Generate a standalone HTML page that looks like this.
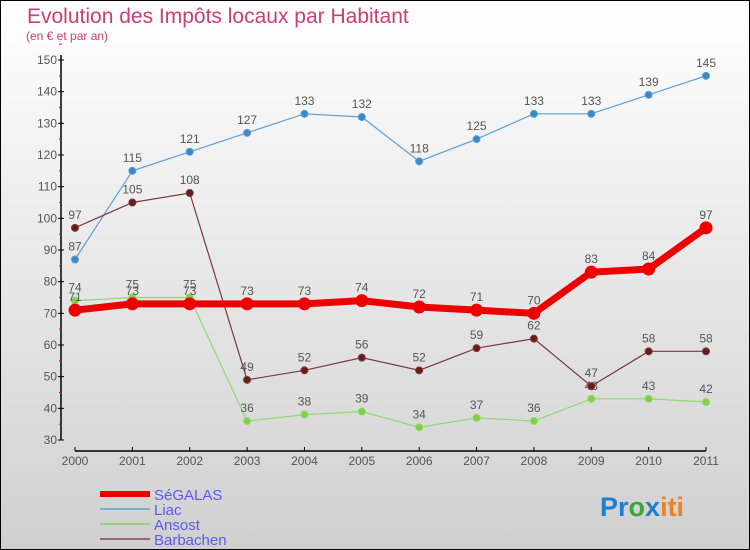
<!DOCTYPE html>
<html><head><meta charset="utf-8"><style>
body{margin:0}
#c{width:750px;height:550px;position:relative;box-sizing:border-box;border:1px solid #000;background:linear-gradient(#fff,#d0d0d0);font-family:"Liberation Sans",sans-serif;overflow:hidden}
</style></head><body>
<div id="c">
<svg id="s" width="750" height="550" style="position:absolute;left:-1px;top:-1px">
<text x="27" y="23" font-size="21" fill="#c84070">Evolution des Impôts locaux par Habitant</text>
<text x="26" y="40" font-size="12" fill="#c84070">(en € et par an)</text>
<text x="600" y="516" font-size="27" font-weight="bold"><tspan fill="#1e7fd0">Pr</tspan><tspan fill="#3aa63a">o</tspan><tspan fill="#1e7fd0">x</tspan><tspan fill="#f08020">iti</tspan></text>
</svg>
</div>
<script>
const years=["2000","2001","2002","2003","2004","2005","2006","2007","2008","2009","2010","2011"];
const segalas=[71,73,73,73,73,74,72,71,70,83,84,97];
const liac=[87,115,121,127,133,132,118,125,133,133,139,145];
const ansost=[74,75,75,36,38,39,34,37,36,43,43,42];
const barbachen=[97,105,108,49,52,56,52,59,62,47,58,58];
const yTicks=[30,40,50,60,70,80,90,100,110,120,130,140,150];
const NS="http://www.w3.org/2000/svg";
const svg=document.getElementById('s');
const X=i=>75+i*(706-75)/(years.length-1);
const Y=v=>440-(v-30)*(380/120);
function mk(t,a,p){const e=document.createElementNS(NS,t);for(const k in a)e.setAttribute(k,a[k]);(p||svg).appendChild(e);return e;}
let ax=mk('line',{x1:61,y1:55,x2:61,y2:440,stroke:'#000','stroke-width':1.5});


yTicks.forEach(v=>{
 let l=mk('line',{x1:58,y1:Y(v),x2:64,y2:Y(v),stroke:'#000'});
 
 
 let m=mk('line',{x1:59,y1:Y(v+5),x2:62,y2:Y(v+5),stroke:'#e00'});
 
 
 let t=mk('text',{x:57,y:Y(v)+4,'text-anchor':'end','font-size':12,fill:'#555'});t.textContent=v;
 
 
});
let xa=mk('line',{x1:75,y1:451,x2:706,y2:451,stroke:'#000','stroke-width':1.5});


years.forEach((y,i)=>{
 let l=mk('line',{x1:X(i),y1:447,x2:X(i),y2:451,stroke:'#000'});
 
 
 let t=mk('text',{x:X(i),y:465,'text-anchor':'middle','font-size':12,fill:'#555'});t.textContent=y;
 
 
});
function series(d,name,col,dot,w,r){
 const g=mk('g',{});
 
 
 mk('polyline',{points:d.map((v,i)=>X(i)+','+Y(v)).join(' '),fill:'none',stroke:col,'stroke-width':w},g);
 d.forEach((v,i)=>{
  let c=mk('circle',{cx:X(i),cy:Y(v),r:r,fill:dot,stroke:col},g);
  
  
  let t=mk('text',{x:X(i),y:Y(v)-9,'text-anchor':'middle','font-size':12,fill:'#555'},g);t.textContent=v;
  
  
 });
}
series(liac,'liac','#5a9fd4','#3a88c8',1.2,3.5);
series(ansost,'ansost','#90d870','#80d040',1.2,3.5);
series(barbachen,'barbachen','#7a3a3a','#6a1a1a',1.2,3.5);
series(segalas,'segalas','#ee0000','#ee0000',7,6);
const leg=[['SéGALAS','#ee0000',6],['Liac','#7ab0d8',2],['Ansost','#90d870',2],['Barbachen','#9a6a6a',2]];
leg.forEach((L,i)=>{
 const y=494+i*15;
 let l=mk('line',{x1:100,y1:y,x2:150,y2:y,stroke:L[1],'stroke-width':L[2]});
 
 
 let t=mk('text',{x:154,y:y+6,'font-size':15,fill:'#5a5af0'});t.textContent=L[0];
 
 
});
</script>
</body></html>
